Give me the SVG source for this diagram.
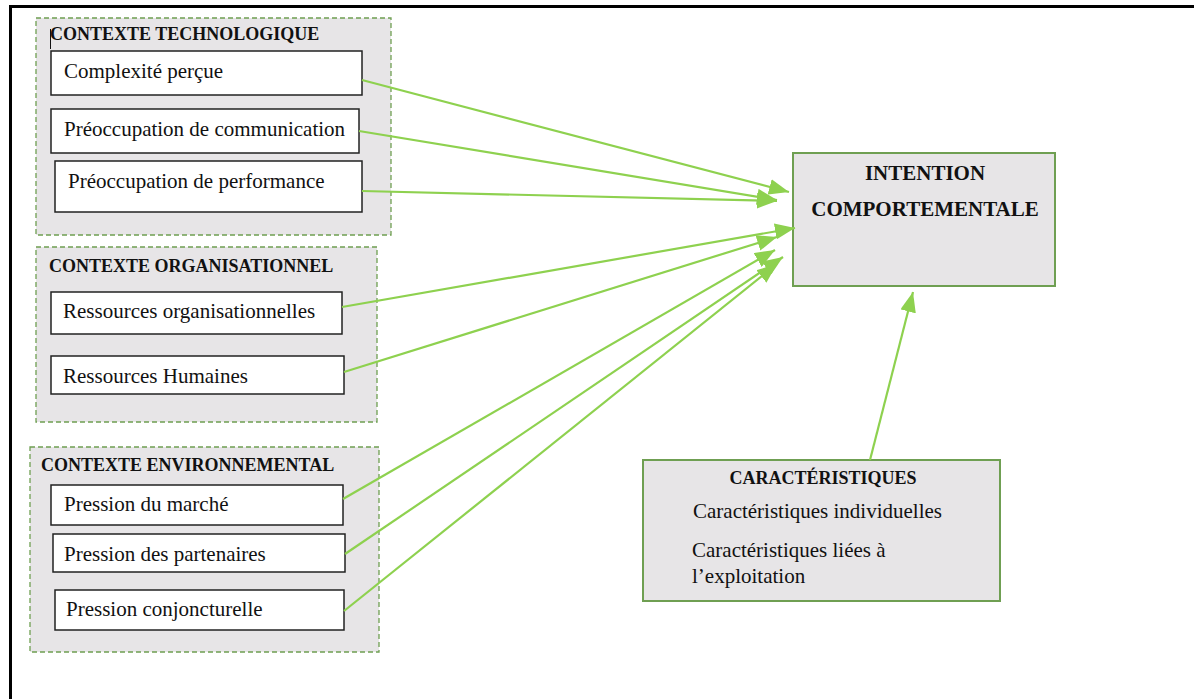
<svg xmlns="http://www.w3.org/2000/svg" width="1194" height="699" viewBox="0 0 1194 699">
<style>
.grp{fill:#e7e5e7;stroke:#6f9f52;stroke-width:1.3;stroke-dasharray:5,3}
.item{fill:#ffffff;stroke:#222;stroke-width:1.5}
.main{fill:#e7e5e7;stroke:#6f9f52;stroke-width:2}
.t{font-family:"Liberation Serif",serif;font-size:21px;fill:#111}
.h{font-family:"Liberation Serif",serif;font-size:18px;font-weight:bold;fill:#111}
.hm{font-family:"Liberation Serif",serif;font-size:21px;font-weight:bold;fill:#111;text-anchor:middle}
.c{stroke:#8ed14f;stroke-width:2.2;fill:none;marker-end:url(#ah)}
</style>
<defs>
<marker id="ah" markerUnits="userSpaceOnUse" markerWidth="22" markerHeight="16" refX="20" refY="8" orient="auto">
<path d="M0,0 L20,8 L0,16 z" fill="#8ed14f"/>
</marker>
</defs>
<rect width="1194" height="699" fill="#fff"/>
<g id="frame">
<line x1="9" y1="6.5" x2="1194" y2="6.5" stroke="#000" stroke-width="3"/>
<line x1="10.5" y1="5" x2="10.5" y2="699" stroke="#000" stroke-width="3"/>
</g>
<g id="ctx-tech">
<rect class="grp" x="36" y="18" width="355" height="217"/>
<line x1="50.5" y1="29" x2="50.5" y2="49" stroke="#111" stroke-width="1"/>
<text class="h" x="50" y="40">CONTEXTE TECHNOLOGIQUE</text>
</g>
<g id="n-complexite">
<rect class="item" x="51" y="51" width="311" height="44"/>
<text class="t" x="64" y="78">Complexité perçue</text>
</g>
<g id="n-communication">
<rect class="item" x="51" y="109" width="308" height="44"/>
<text class="t" x="64" y="136">Préoccupation de communication</text>
</g>
<g id="n-performance">
<rect class="item" x="55" y="161" width="307" height="51"/>
<text class="t" x="68" y="188">Préoccupation de performance</text>
</g>
<g id="ctx-org">
<rect class="grp" x="36" y="247" width="341" height="175"/>
<text class="h" x="49" y="272">CONTEXTE ORGANISATIONNEL</text>
</g>
<g id="n-ress-org">
<rect class="item" x="51" y="292" width="291" height="42"/>
<text class="t" x="63" y="318">Ressources organisationnelles</text>
</g>
<g id="n-ress-hum">
<rect class="item" x="51" y="356" width="293" height="38"/>
<text class="t" x="63" y="383">Ressources Humaines</text>
</g>
<g id="ctx-env">
<rect class="grp" x="30" y="447" width="349" height="205"/>
<text class="h" x="41" y="471">CONTEXTE ENVIRONNEMENTAL</text>
</g>
<g id="n-marche">
<rect class="item" x="51" y="485" width="292" height="40"/>
<text class="t" x="64" y="511">Pression du marché</text>
</g>
<g id="n-partenaires">
<rect class="item" x="53" y="534" width="292" height="38"/>
<text class="t" x="64" y="561">Pression des partenaires</text>
</g>
<g id="n-conjoncture">
<rect class="item" x="55" y="590" width="289" height="40"/>
<text class="t" x="66" y="616">Pression conjoncturelle</text>
</g>
<g id="n-intention">
<rect class="main" x="793" y="153" width="262" height="133"/>
<text class="hm" x="925" y="180">INTENTION</text>
<text class="hm" x="925" y="216">COMPORTEMENTALE</text>
</g>
<g id="n-caract">
<rect class="main" x="643" y="460" width="357" height="141"/>
<text class="hm" x="823" y="484" style="font-size:18px">CARACTÉRISTIQUES</text>
<text class="t" x="693" y="518">Caractéristiques individuelles</text>
<text class="t" x="692" y="557">Caractéristiques liées à</text>
<text class="t" x="692" y="583">l’exploitation</text>
</g>
<g id="connectors">
<line class="c" x1="362" y1="80" x2="789" y2="192"/>
<line class="c" x1="359" y1="131" x2="777" y2="200"/>
<line class="c" x1="362" y1="191" x2="777" y2="201"/>
<line class="c" x1="342" y1="307" x2="795" y2="228"/>
<line class="c" x1="344" y1="372" x2="777" y2="237"/>
<line class="c" x1="343" y1="499" x2="775" y2="250"/>
<line class="c" x1="345" y1="554" x2="783" y2="257"/>
<line class="c" x1="344" y1="611" x2="777" y2="264"/>
<line class="c" x1="870" y1="460" x2="913" y2="292"/>
</g>
</svg>
